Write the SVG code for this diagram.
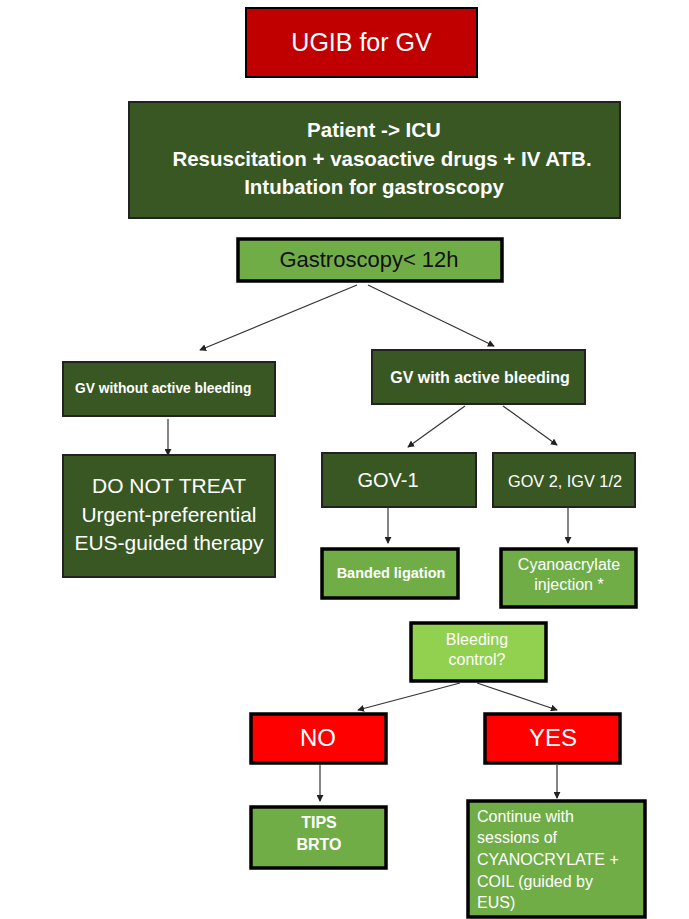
<svg xmlns="http://www.w3.org/2000/svg" width="689" height="919" viewBox="0 0 689 919">
<defs>
<marker id="ah" viewBox="0 0 8 8" refX="7" refY="4" markerWidth="7" markerHeight="7" markerUnits="userSpaceOnUse" orient="auto">
<path d="M0,0 L8,4 L0,8 z" fill="#222"/>
</marker>
<style>
text{font-family:"Liberation Sans",Arial,sans-serif;fill:#fff}
.dk{fill:#385723;stroke:#222;stroke-width:2}
.mg{fill:#70AD47;stroke:#000;stroke-width:3.5}
.lg{fill:#92D050;stroke:#000;stroke-width:3.5}
.rd{fill:#FF0000;stroke:#000;stroke-width:3.5}
.b{font-weight:bold}
.c{text-anchor:middle}
#connectors line{stroke:#333;stroke-width:1.2;marker-end:url(#ah)}
</style>
</defs>
<rect width="689" height="919" fill="#fff"/>

<g id="ugib">
<rect x="246" y="8" width="231" height="69" fill="#C00000" stroke="#000" stroke-width="2"/>
<text x="361.5" y="51" class="c" font-size="25">UGIB for GV</text>
</g>

<g id="icu">
<rect x="129" y="102" width="491" height="116" class="dk"/>
<text x="374" y="137" class="c b" font-size="20.5">Patient -&gt; ICU</text>
<text x="382" y="166" class="c b" font-size="20.5">Resuscitation + vasoactive drugs + IV ATB.</text>
<text x="374" y="194" class="c b" font-size="20.5">Intubation for gastroscopy</text>
</g>

<g id="gastro">
<rect x="238" y="239" width="264" height="42" class="mg"/>
<text x="369" y="267" class="c" font-size="22" style="fill:#111">Gastroscopy&lt; 12h</text>
</g>

<g id="gv-noactive">
<rect x="63" y="362" width="212" height="54" class="dk"/>
<text x="75" y="393" class="b" font-size="13.8">GV without active bleeding</text>
</g>

<g id="donottreat">
<rect x="63" y="455" width="212" height="122" class="dk"/>
<text x="169" y="493" class="c" font-size="21">DO NOT TREAT</text>
<text x="169" y="522" class="c" font-size="21">Urgent-preferential</text>
<text x="169" y="550" class="c" font-size="21">EUS-guided therapy</text>
</g>

<g id="gv-active">
<rect x="372" y="350" width="213" height="54" class="dk"/>
<text x="480" y="383" class="c b" font-size="16">GV with active bleeding</text>
</g>

<g id="gov1">
<rect x="322" y="453" width="154" height="54" class="dk"/>
<text x="388" y="487" class="c" font-size="20">GOV-1</text>
</g>

<g id="gov2">
<rect x="493" y="453" width="142" height="54" class="dk"/>
<text x="565" y="487" class="c" font-size="16.3">GOV 2, IGV 1/2</text>
</g>

<g id="banded">
<rect x="322" y="549" width="136" height="49" class="mg"/>
<text x="391" y="578" class="c b" font-size="14.5">Banded ligation</text>
</g>

<g id="cyano">
<rect x="501" y="549" width="135" height="58" class="mg"/>
<text x="569" y="570" class="c" font-size="16">Cyanoacrylate</text>
<text x="569" y="590" class="c" font-size="16">injection *</text>
</g>

<g id="bleedctl">
<rect x="411" y="623" width="135" height="58" class="lg"/>
<text x="477" y="645" class="c" font-size="16">Bleeding</text>
<text x="477" y="665" class="c" font-size="16">control?</text>
</g>

<g id="no">
<rect x="251" y="714" width="135" height="49" class="rd"/>
<text x="318" y="746" class="c" font-size="24">NO</text>
</g>

<g id="yes">
<rect x="485" y="714" width="135" height="49" class="rd"/>
<text x="553" y="746" class="c" font-size="24">YES</text>
</g>

<g id="tips">
<rect x="251" y="807" width="135" height="61" class="mg"/>
<text x="319" y="828" class="c b" font-size="16">TIPS</text>
<text x="319" y="850" class="c b" font-size="16">BRTO</text>
</g>

<g id="continue">
<rect x="468" y="801" width="177" height="116" class="mg"/>
<text x="477" y="822" font-size="16">Continue with</text>
<text x="477" y="843" font-size="16">sessions of</text>
<text x="477" y="865" font-size="16">CYANOCRYLATE +</text>
<text x="477" y="887" font-size="16">COIL (guided by</text>
<text x="477" y="908" font-size="16">EUS)</text>
</g>

<g id="connectors">
<line x1="357" y1="285" x2="200" y2="350"/>
<line x1="368" y1="285" x2="494" y2="346"/>
<line x1="168" y1="419" x2="168" y2="455"/>
<line x1="465" y1="406" x2="408" y2="447"/>
<line x1="503" y1="406" x2="557" y2="445"/>
<line x1="388" y1="507" x2="388" y2="543"/>
<line x1="568" y1="507" x2="568" y2="543"/>
<line x1="460" y1="683" x2="358" y2="710"/>
<line x1="477" y1="683" x2="557" y2="710"/>
<line x1="320" y1="765" x2="320" y2="801"/>
<line x1="557" y1="765" x2="557" y2="798"/>
</g>
</svg>
